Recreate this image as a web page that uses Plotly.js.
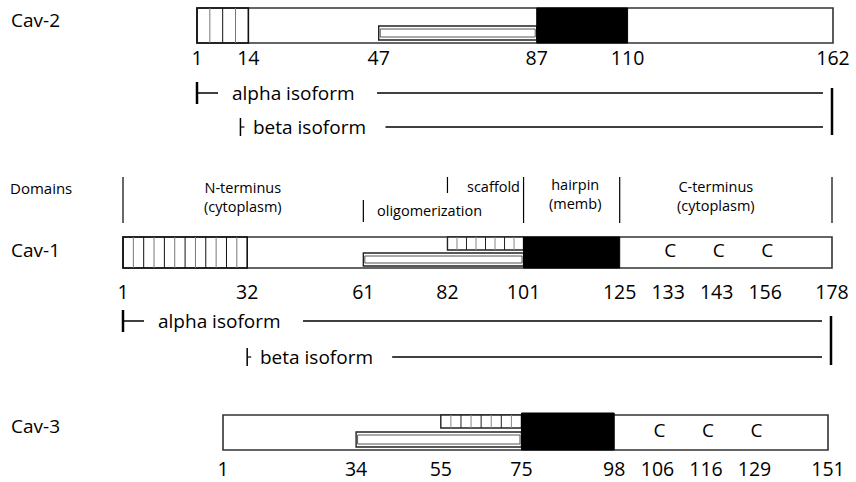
<!DOCTYPE html>
<html><head><meta charset="utf-8">
<script src="https://cdn.plot.ly/plotly-3.0.1.min.js"></script>
<style>html,body{margin:0;padding:0;background:#fff}</style>
</head><body><div id="chart" style="width:856px;height:482px"></div>
<script>
// ---------------- data (residue numbers) ----------------
const proteins = ['Cav-2', 'Cav-1', 'Cav-3'];
const proteinLengths = [162, 178, 151];
const cav2Ticks = [1, 14, 47, 87, 110, 162];
const cav1Ticks = [1, 32, 61, 82, 101, 125, 133, 143, 156, 178];
const cav3Ticks = [1, 34, 55, 75, 98, 106, 116, 129, 151];
const cav1Cys = [133, 143, 156];
const cav3Cys = [106, 116, 129];
const hatchedNterm = [[1, 14], [1, 32], null];
const oligomerRegion = [[47, 87], [61, 101], [34, 75]];
const scaffoldRegion = [null, [82, 101], [55, 75]];
const hairpinRegion = [[87, 110], [101, 125], [75, 98]];
const alphaStart = [1, 1, null];
const betaStart = [12, 32, null];
const domainNames = ['N-terminus<br>(cytoplasm)', 'oligomerization', 'scaffold', 'hairpin<br>(memb)', 'C-terminus<br>(cytoplasm)'];
const domainStarts = [1, 61, 82, 101, 125];
const domainEnds = [61, 101, 101, 125, 178];

// ---------------- layout helpers ----------------
const W = 856, H = 482;
const FONT = 'Open Sans, sans-serif';
const tickLists = [cav2Ticks, cav1Ticks, cav3Ticks];
const cysLists = [[], cav1Cys, cav3Cys];
const axisIds = ['x2', 'x', 'x3'];
const barPx = [[197, 833], [123, 832], [223, 828]];
const rowY = [
  {label: 20, barTop: 8, barBot: 43, oTop: 26, oBot: 40, sTop: null, sBot: null, num: 60, alpha: 93, beta: 127, hatchN: 4},
  {label: 250, barTop: 237, barBot: 268, oTop: 253, oBot: 266, sTop: 237, sBot: 250, num: 294, alpha: 321, beta: 357, hatchN: 12},
  {label: 426, barTop: 415, barBot: 450, oTop: 432, oBot: 447, sTop: 415, sBot: 428, num: 471, hatchN: 0}
];
// residues per pixel for each protein axis
const rpp = proteins.map((p, i) => (proteinLengths[i] - 1) / (barPx[i][1] - barPx[i][0]));
const ranges = proteins.map((p, i) => [1 - barPx[i][0] * rpp[i], 1 + (W - barPx[i][0]) * rpp[i]]);
const off = (i, r, dpx) => r + dpx * rpp[i];

// label placement: keep neighbouring number labels from overlapping (in residue units)
function spreadLabels(i, ticks) {
  const out = ticks.slice();
  const w = v => 10.5 * String(v).length;
  for (let k = 1; k < out.length; k++) {
    const minGap = ((w(ticks[k]) + w(ticks[k - 1])) / 2 + 17) * rpp[i];
    if (out[k] - out[k - 1] < minGap) out[k] = out[k - 1] + minGap;
  }
  return out;
}

const shapes = [];
const annotations = [];
const traces = [];
const ln = (xref, x0, x1, y0, y1, color, width) => shapes.push({type: 'line', layer: 'below', xref, yref: 'y', x0, x1, y0, y1, line: {color, width}});
const rect = (xref, x0, x1, y0, y1, fill, color, width) => shapes.push({type: 'rect', layer: 'below', xref, yref: 'y', x0, x1, y0, y1, fillcolor: fill, line: {color, width}});

proteins.forEach((name, i) => {
  const ax = axisIds[i], Y = rowY[i], L = proteinLengths[i];
  annotations.push({xref: 'paper', yref: 'y', x: 9 / W, y: Y.label, xanchor: 'left', yanchor: 'middle',
    text: name, showarrow: false, font: {family: FONT, size: 19, color: '#000'}});
  // main bar
  rect(ax, 1, L, Y.barTop, Y.barBot, '#fff', '#333', 1.6);
  // hatched N-terminal region
  if (hatchedNterm[i]) {
    const [a, b] = hatchedNterm[i];
    rect(ax, a, b, Y.barTop, Y.barBot, 'rgba(0,0,0,0)', '#111', 1.6);
    for (let k = 1; k < Y.hatchN; k++) {
      const x = a + k * (b - a) / Y.hatchN;
      ln(ax, x, x, Y.barTop, Y.barBot, k % 2 ? '#777' : '#111', 1);
    }
  }
  // oligomerization box (double outline)
  const [oa, ob] = oligomerRegion[i];
  rect(ax, oa, ob, Y.oTop, Y.oBot, '#fff', '#222', 1.4);
  rect(ax, off(i, oa, 1.5), off(i, ob, -1.5), Y.oTop + 3, Y.oBot - 3, 'rgba(0,0,0,0)', '#555', 1);
  // scaffold hatched box
  if (scaffoldRegion[i]) {
    const [sa, sb] = scaffoldRegion[i];
    rect(ax, sa, sb, Y.sTop, Y.sBot, '#fff', '#222', 1.4);
    for (let k = 1; k < 8; k++) {
      const x = sa + k * (sb - sa) / 8;
      ln(ax, x, x, Y.sTop, Y.sBot, k % 2 ? '#888' : '#222', 1);
    }
  }
  // hairpin (membrane) region
  const [ha, hb] = hairpinRegion[i];
  rect(ax, ha, hb, Y.barTop - (i === 2 ? 2 : 0), Y.barBot, '#000', '#000', 1);
  // residue numbers
  const ticks = tickLists[i];
  const labelX = spreadLabels(i, ticks);
  traces.push({type: 'scatter', mode: 'text', xaxis: ax, yaxis: 'y', cliponaxis: false,
    x: labelX, y: ticks.map(() => Y.num), text: ticks.map(String),
    textposition: 'middle center', textfont: {family: FONT, size: 19.5, color: '#000'}, hoverinfo: 'skip', showlegend: false});
  // cysteine markers (drawn in line with their residue labels)
  const cys = cysLists[i];
  if (cys.length) {
    traces.push({type: 'scatter', mode: 'text', xaxis: ax, yaxis: 'y', cliponaxis: false,
      x: cys.map(c => labelX[ticks.indexOf(c)] + 2 * rpp[i]), y: cys.map(() => (Y.barTop + Y.barBot) / 2),
      text: cys.map(() => 'C'),
      textposition: 'middle center', textfont: {family: FONT, size: 19, color: '#000'}, hoverinfo: 'skip', showlegend: false});
  }
  // isoforms
  if (alphaStart[i] !== null) {
    const a = alphaStart[i], b = betaStart[i];
    ln(ax, a, a, Y.alpha - 11, Y.alpha + 11, '#000', 2.5);
    ln(ax, a, off(i, a, 21), Y.alpha, Y.alpha, '#000', 1.5);
    annotations.push({xref: ax, yref: 'y', x: off(i, a, 33), y: Y.alpha, xanchor: 'left', yanchor: 'middle',
      text: 'alpha isoform', showarrow: false, font: {family: FONT, size: 19, color: '#000'}});
    ln(ax, off(i, a, 180), off(i, L, -10), Y.alpha, Y.alpha, '#000', 1.3);
    ln(ax, b, b, Y.beta - 9, Y.beta + 9, '#000', 1.5);
    ln(ax, b, off(i, b, 4), Y.beta, Y.beta, '#000', 1.2);
    annotations.push({xref: ax, yref: 'y', x: off(i, b, 11), y: Y.beta, xanchor: 'left', yanchor: 'middle',
      text: 'beta isoform', showarrow: false, font: {family: FONT, size: 19, color: '#000'}});
    ln(ax, off(i, b, 145), off(i, L, -10), Y.beta, Y.beta, '#000', 1.3);
    ln(ax, off(i, L, -1), off(i, L, -1), Y.alpha - 5, Y.beta + 8, '#000', 2.5);
  }
});

// domain header (on Cav-1 axis)
annotations.push({xref: 'paper', yref: 'y', x: 8 / W, y: 188, xanchor: 'left', yanchor: 'middle',
  text: 'Domains', showarrow: false, font: {family: FONT, size: 15, color: '#000'}});
const sepRes = [...new Set(domainStarts.concat(domainEnds))];
sepRes.forEach(r => {
  let y0 = 177, y1 = 223;
  if (r === domainStarts[1]) { y0 = 200; y1 = 222; }
  if (r === domainStarts[2]) { y0 = 177; y1 = 193; }
  ln('x', r, r, y0, y1, '#000', 1.2);
});
const domainStyle = [
  {anchor: 'center', dx: 0, y: 197},
  {anchor: 'left', dx: 12, y: 210},
  {anchor: 'left', dx: 18, y: 186},
  {anchor: 'center', dx: 3, y: 194},
  {anchor: 'center', dx: -10, y: 196}
];
domainNames.forEach((t, k) => {
  const st = domainStyle[k];
  const x = st.anchor === 'center' ? (domainStarts[k] + domainEnds[k]) / 2 : domainStarts[k];
  annotations.push({xref: 'x', yref: 'y', x: off(1, x, st.dx), y: st.y, xanchor: st.anchor, yanchor: 'middle',
    text: t, align: 'center', showarrow: false, font: {family: FONT, size: 14.5, color: '#000'}});
});

const axBase = {visible: false, fixedrange: true, domain: [0, 1], anchor: 'y'};
const layout = {
  width: W, height: H, margin: {l: 0, r: 0, t: 0, b: 0},
  paper_bgcolor: '#fff', plot_bgcolor: '#fff', showlegend: false,
  xaxis: Object.assign({}, axBase, {range: ranges[1]}),
  xaxis2: Object.assign({}, axBase, {range: ranges[0], overlaying: 'x'}),
  xaxis3: Object.assign({}, axBase, {range: ranges[2], overlaying: 'x'}),
  yaxis: {visible: false, fixedrange: true, range: [H, 0], domain: [0, 1]},
  shapes, annotations
};
Plotly.newPlot('chart', traces, layout, {displayModeBar: false, staticPlot: true});
</script></body></html>
